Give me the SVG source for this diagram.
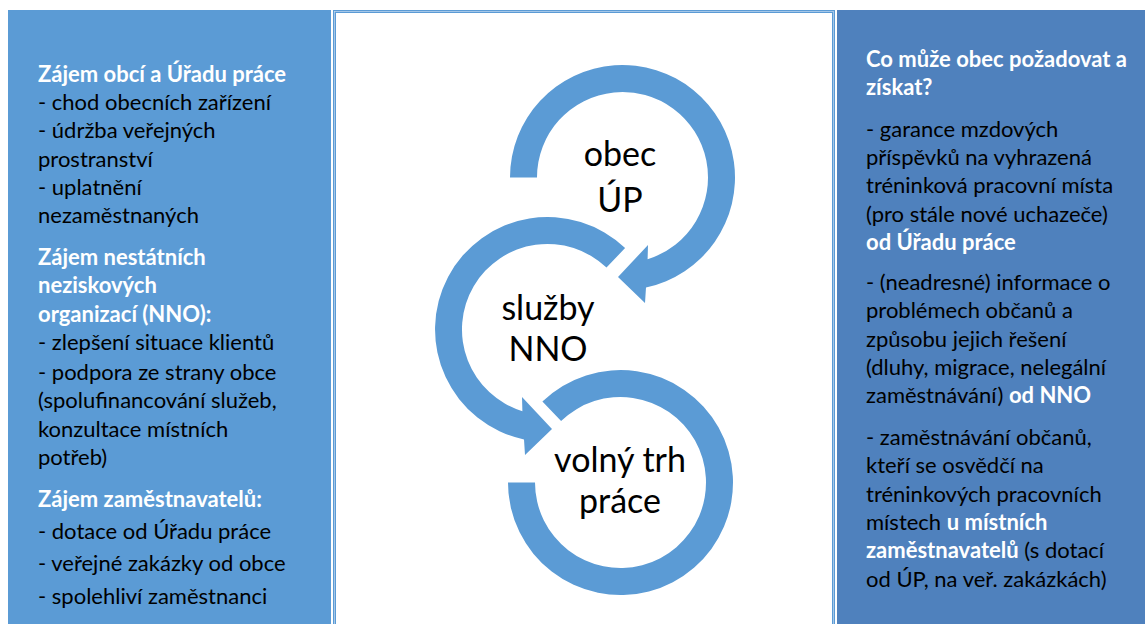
<svg xmlns="http://www.w3.org/2000/svg" width="1145" height="624" viewBox="0 0 1145 624">
<style>
.t{font-family:Lato,"Liberation Sans",sans-serif;font-size:22px;fill:#000}
.b{font-weight:bold;fill:#fff}
.c{font-family:Lato,"Liberation Sans",sans-serif;font-size:34px;fill:#000;text-anchor:middle}
.arr{fill:#5B9BD5}
</style>
<rect width="1145" height="624" fill="#fff"/>
<g id="left-panel">
<rect x="8" y="10" width="323" height="620" fill="#5B9BD5"/>
<text class="t" x="38" y="82"><tspan class="b">Zájem obcí a Úřadu práce</tspan></text>
<text class="t" x="38" y="110">- chod obecních zařízení</text>
<text class="t" x="38" y="138">- údržba veřejných</text>
<text class="t" x="38" y="167">prostranství</text>
<text class="t" x="38" y="195">- uplatnění</text>
<text class="t" x="38" y="223">nezaměstnaných</text>
<text class="t b" x="38" y="265">Zájem nestátních</text>
<text class="t b" x="38" y="293">neziskových</text>
<text class="t b" x="38" y="322">organizací (NNO):</text>
<text class="t" x="38" y="350">- zlepšení situace klientů</text>
<text class="t" x="38" y="380">- podpora ze strany obce</text>
<text class="t" x="38" y="408">(spolufinancování služeb,</text>
<text class="t" x="38" y="437">konzultace místních</text>
<text class="t" x="38" y="465">potřeb)</text>
<text class="t b" x="38" y="507">Zájem zaměstnavatelů:</text>
<text class="t" x="38" y="539">- dotace od Úřadu práce</text>
<text class="t" x="38" y="571">- veřejné zakázky od obce</text>
<text class="t" x="38" y="604">- spolehliví zaměstnanci</text>
</g>
<g id="center-panel">
<rect x="334.5" y="11.5" width="499" height="640" fill="#fff" stroke="#5B9BD5" stroke-width="3"/>
<rect x="334.5" y="11.5" width="499" height="640" fill="none" stroke="#C5DBF0" stroke-width="0.7"/>
</g>
<g id="right-panel">
<rect x="837" y="10" width="310" height="620" fill="#4F81BD"/>
<text class="t b" x="866" y="67">Co může obec požadovat a</text>
<text class="t b" x="866" y="95">získat?</text>
<text class="t" x="866" y="137">- garance mzdových</text>
<text class="t" x="866" y="165">příspěvků na vyhrazená</text>
<text class="t" x="866" y="193">tréninková pracovní místa</text>
<text class="t" x="866" y="222">(pro stále nové uchazeče)</text>
<text class="t b" x="866" y="250">od Úřadu práce</text>
<text class="t" x="866" y="290">- (neadresné) informace o</text>
<text class="t" x="866" y="318">problémech občanů a</text>
<text class="t" x="866" y="347">způsobu jejich řešení</text>
<text class="t" x="866" y="375">(dluhy, migrace, nelegální</text>
<text class="t" x="866" y="403">zaměstnávání) <tspan class="b">od NNO</tspan></text>
<text class="t" x="866" y="445">- zaměstnávání občanů,</text>
<text class="t" x="866" y="473">kteří se osvědčí na</text>
<text class="t" x="866" y="502">tréninkových pracovních</text>
<text class="t" x="866" y="530">místech <tspan class="b">u místních</tspan></text>
<text class="t" x="866" y="558"><tspan class="b">zaměstnavatelů</tspan> (s dotací</text>
<text class="t" x="866" y="587">od ÚP, na veř. zakázkách)</text>
</g>
<g id="connectors">
<path class="arr" d="M 510,177.5 A 112.5 112.5 0 1 1 646,287.5 L 645,303 L 618,277 L 648,245 L 647.6,259.2 A 85.5 85.5 0 1 0 537,177.5 Z"/>
<path class="arr" d="M 625.1,248 A 112.5 112.5 0 1 0 524,439.5 L 525,455 L 552,429 L 522,397 L 522.4,411.2 A 85.5 85.5 0 1 1 606.5,267.6 Z"/>
<path class="arr" d="M 508,482.5 A 112.5 112.5 0 1 0 542.4,401.6 L 561.1,421 A 85.5 85.5 0 1 1 535,482.5 Z"/>
</g>
<g id="node-obec">
<text class="c" x="620" y="166">obec</text>
<text class="c" x="620" y="212">ÚP</text>
</g>
<g id="node-nno">
<text class="c" x="548" y="320">služby</text>
<text class="c" x="548" y="361">NNO</text>
</g>
<g id="node-trh">
<text class="c" x="620" y="472">volný trh</text>
<text class="c" x="620" y="513">práce</text>
</g>
</svg>
